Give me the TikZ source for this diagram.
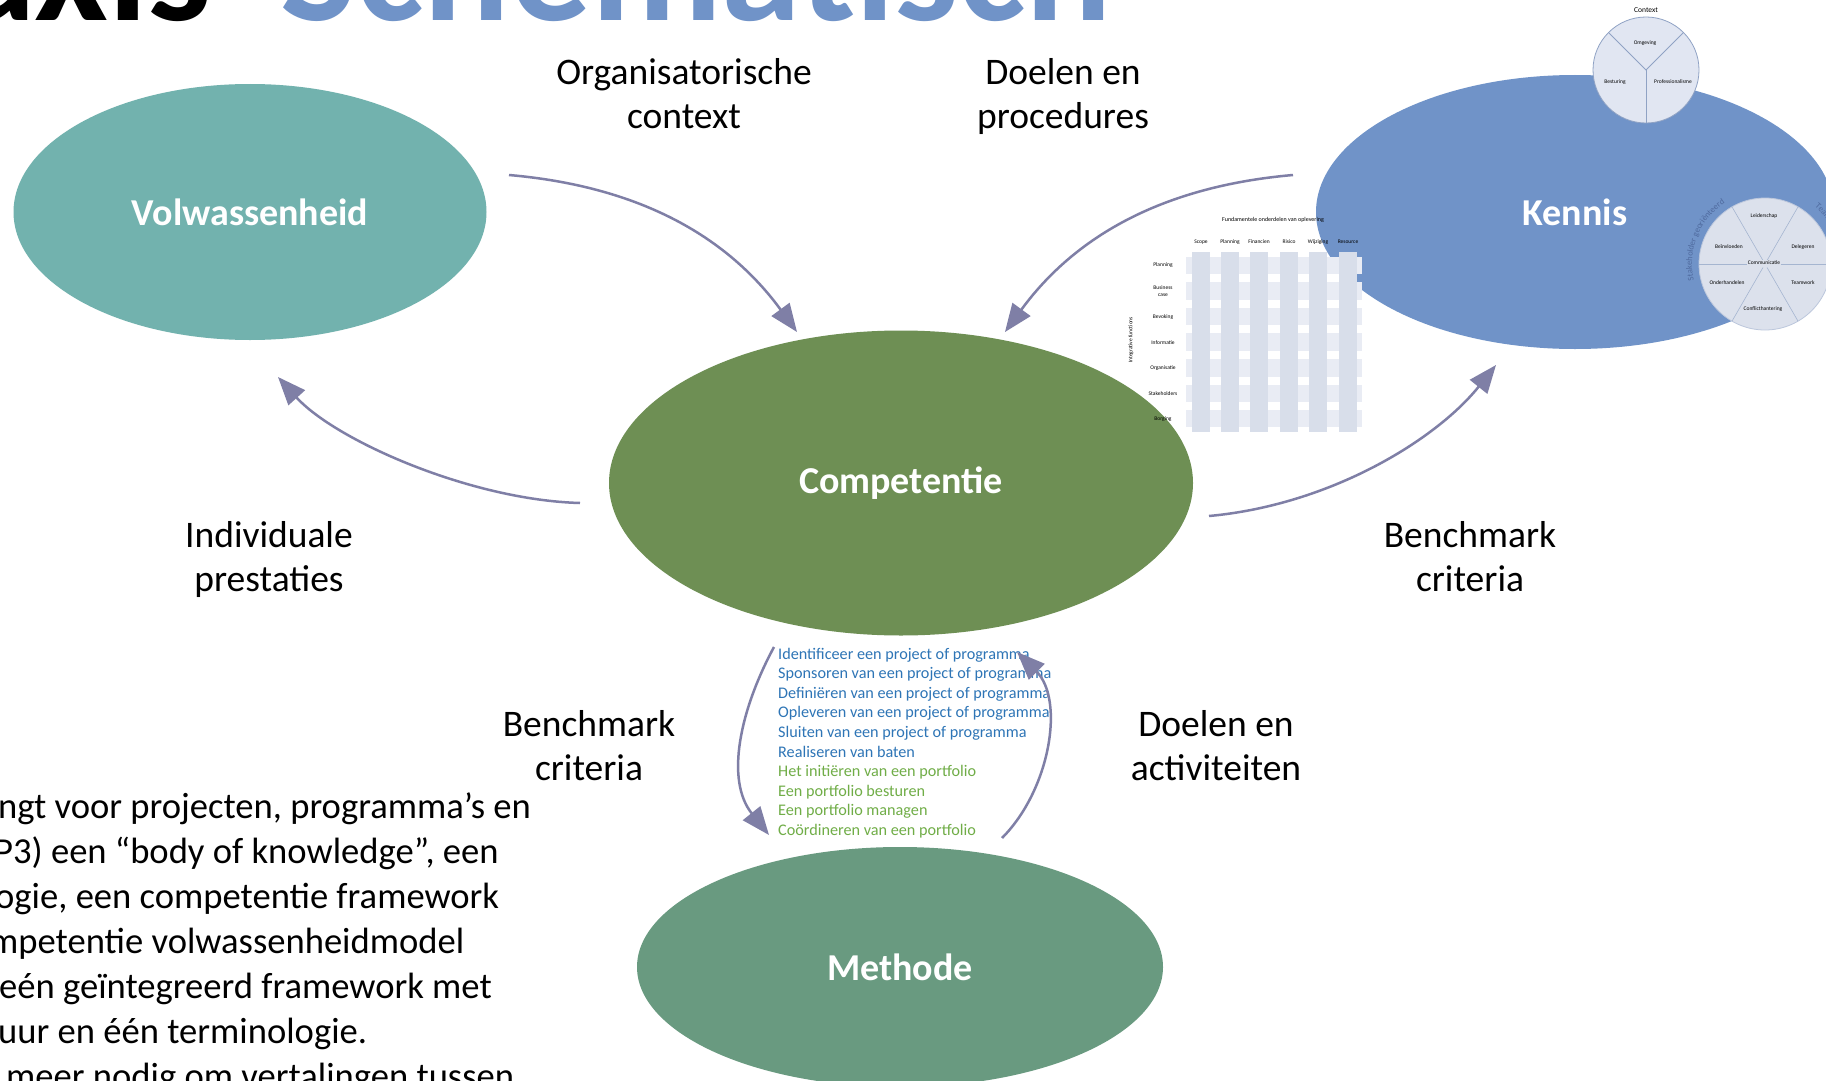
\documentclass[tikz,border=0pt]{standalone}
\usepackage{fontspec}
\setmainfont{Carlito}
\usetikzlibrary{shapes.geometric,arrows.meta,decorations.text,calc}
\definecolor{volc}{HTML}{72B2AE}
\definecolor{kenc}{HTML}{7093C8}
\definecolor{comc}{HTML}{6E8F54}
\definecolor{metc}{HTML}{699A80}
\definecolor{arrc}{HTML}{7F7FA6}
\definecolor{lblue}{HTML}{2E75B6}
\definecolor{lgreen}{HTML}{70AD47}
\definecolor{rowc}{HTML}{E9ECF4}
\definecolor{colc}{HTML}{D8DEEA}
\definecolor{cfill}{HTML}{E1E6F2}
\definecolor{cline}{HTML}{8FA2C4}
\definecolor{stk}{HTML}{4F6A9E}
\begin{document}
\begin{tikzpicture}[x=1pt,y=-1pt,
  blob/.style={ellipse, inner sep=0pt, text=white, font=\fontsize{38}{44}\selectfont\bfseries},
  lbl/.style={align=center, inner sep=0pt, font=\fontsize{37.5}{44}\selectfont},
  flow/.style={draw=arrc, line width=2.5pt, -{Triangle[length=28pt,width=22pt]}},
  tiny/.style={inner sep=0pt, font=\fontsize{5.5}{6.3}\selectfont},
  para/.style={anchor=base west, inner sep=0pt, font=\fontsize{36.6}{45}\selectfont},
  item/.style={anchor=base west, inner sep=0pt, font=\fontsize{16.2}{19.6}\selectfont}]
\useasboundingbox (0,0) rectangle (1826,1081);
\fill[white] (0,0) rectangle (1826,1081);

% main ellipses
\node[blob, fill=volc, minimum width=473pt, minimum height=256pt] (vol) at (250,212) {Volwassenheid};
\node[blob, fill=kenc, minimum width=518pt, minimum height=274pt] (ken) at (1575,212) {Kennis};
\node[blob, fill=comc, minimum width=584pt, minimum height=305pt] (com) at (901,483) {Competentie};
\node[blob, fill=metc, minimum width=526pt, minimum height=240pt] (met) at (900,967) {Methode};

% table
\foreach \y in {256.7,282.3,307.7,333.3,359.3,385,410}
  \fill[rowc] (1186,\y) rectangle (1362,\y+17.3);
\foreach \x in {1192,1221,1250.3,1280,1309.3,1339}
  \fill[colc] (\x,252) rectangle (\x+17.7,432);
\node[tiny, font=\fontsize{6}{7}\selectfont] (tt) at (1273,220) {Fundamentele onderdelen van oplevering};
\foreach \x/\t [count=\i] in {1201/Scope,1230/Planning,1259/Financien,1289/Risico,1318/Wijziging,1348/Resource}
  \node[tiny] (ch\i) at (\x,242) {\t};
\foreach \y/\t [count=\i] in {265/Planning,291/{Business\\case},317/Bevoking,343/Informatie,368/Organisatie,394/Stakeholders,419/Borging}
  \node[tiny, align=center] (rl\i) at (1163,\y) {\t};
\node[tiny, rotate=90] (itf) at (1131,340) {Integrative functions};

% context circle
\coordinate (ctx) at (1646,70);
\fill[cfill] (ctx) circle[radius=53pt];
\draw[cline, line width=0.8pt] (ctx) circle[radius=53pt];
\draw[cline, line width=0.8pt] (1608.5,32.5) -- (ctx) -- (1683.5,32.5);
\draw[cline, line width=0.8pt] (ctx) -- (1646,123);
\node[tiny, font=\fontsize{7.5}{8}\selectfont] (ctxt) at (1646,10) {Context};
\node[tiny] (omg) at (1645,43) {Omgeving};
\node[tiny] (bes) at (1615,82) {Besturing};
\node[tiny] (pro) at (1673,82) {Professionalisme};

% competence circle
\coordinate (cc) at (1765,264);
\fill[cfill!95!gray] (cc) circle[radius=66pt];
\draw[cline!60, line width=0.8pt] (cc) circle[radius=66pt];
\foreach \a in {0,60,120,180,240,300}
  \draw[cline!80, line width=0.6pt] ($(cc)+(\a:4pt)$) -- ($(cc)+(\a:66pt)$);
\node[tiny, fill=cfill!95!gray, inner sep=1pt] (com1) at (1764,263) {Communicatie};
\node[tiny] (lei) at (1764,216) {Leiderschap};
\node[tiny] (del) at (1803,247) {Delegeren};
\node[tiny] (tea) at (1803,283) {Teamwork};
\node[tiny] (con) at (1763,309) {Conflicthantering};
\node[tiny] (ond) at (1727,283) {Onderhandelen};
\node[tiny] (bei) at (1729,247) {Beïnvloeden};
\path[decorate, decoration={text along path, text align=center,
  text={|\fontsize{8.5}{9}\selectfont\color{stk}|Stakeholder georiënteerd}}]
  ($(cc)+(196:73pt)$) arc[start angle=196, end angle=120, radius=73pt];
\path[decorate, decoration={text along path, text align=left,
  text={|\fontsize{8.5}{9}\selectfont\color{stk}|Team}}]
  ($(cc)+(49:76pt)$) arc[start angle=49, end angle=-10, radius=76pt];

% labels
\node[lbl] (lorg) at (684,94) {Organisatorische\\context};
\node[lbl] (ldoel) at (1063,97) {Doelen en\\procedures};
\node[lbl] (lind) at (269,559) {Individuale\\prestaties};
\node[lbl] (lbm1) at (1470,557) {Benchmark\\criteria};
\node[lbl] (lbm2) at (589,746) {Benchmark\\criteria};
\node[lbl] (lact) at (1216,746) {Doelen en\\activiteiten};

% list
\foreach \t [count=\i from 0] in {Identificeer een project of programma,Sponsoren van een project of programma,Definiëren van een project of programma,Opleveren van een project of programma,Sluiten van een project of programma,Realiseren van baten}
  \node[item, text=lblue] (li\i) at (778,659+\i*19.6) {\t};
\foreach \t [count=\i from 6] in {Het initiëren van een portfolio,Een portfolio besturen,Een portfolio managen,Coördineren van een portfolio}
  \node[item, text=lgreen] (li\i) at (778,659+\i*19.6) {\t};

% paragraph
\node[para] (p1) at (-2,818) {ngt voor projecten, programma’s en};
\node[para] (p2) at (-6,863) {P3) een “body of knowledge”, een};
\node[para] (p3) at (-5,908) {ogie, een competentie framework};
\node[para] (p4) at (-11,953) {mpetentie volwassenheidmodel};
\node[para] (p5) at (-1,998) {eén geïntegreerd framework met};
\node[para] (p6) at (-2,1043) {uur en één terminologie.};
\node[para] (p7) at (6,1088) {meer nodig om vertalingen tussen};

% title
\node[anchor=base east, inner sep=0pt, font=\fontsize{161}{165}\selectfont\bfseries] (t1) at (212,21) {axis};
\node[anchor=base west, inner sep=0pt, text=kenc, font=\fontsize{161}{165}\selectfont\bfseries] (t2) at (280,21) {Schematisch};

% arrows
\coordinate (a1s) at (509,175); \coordinate (a1e) at (797,332);
\coordinate (a2s) at (1293,175); \coordinate (a2e) at (1005,332);
\coordinate (a3s) at (580,503); \coordinate (a3e) at (278,377);
\coordinate (a4s) at (1209,516); \coordinate (a4e) at (1496,365);
\coordinate (a5s) at (774,647); \coordinate (a5e) at (769,835);
\coordinate (a6s) at (1002,838); \coordinate (a6e) at (1017,652);
\draw[flow] (a1s) .. controls (658,188) and (737,250) .. (a1e);
\draw[flow] (a2s) .. controls (1144,188) and (1065,250) .. (a2e);
\draw[flow] (a3s) .. controls (470,500) and (335,440) .. (a3e);
\draw[flow] (a4s) .. controls (1330,505) and (1436,440) .. (a4e);
\draw[flow] (a5s) .. controls (740,710) and (725,780) .. (a5e);
\draw[flow] (a6s) .. controls (1050,790) and (1065,700) .. (a6e);
\end{tikzpicture}
\end{document}
